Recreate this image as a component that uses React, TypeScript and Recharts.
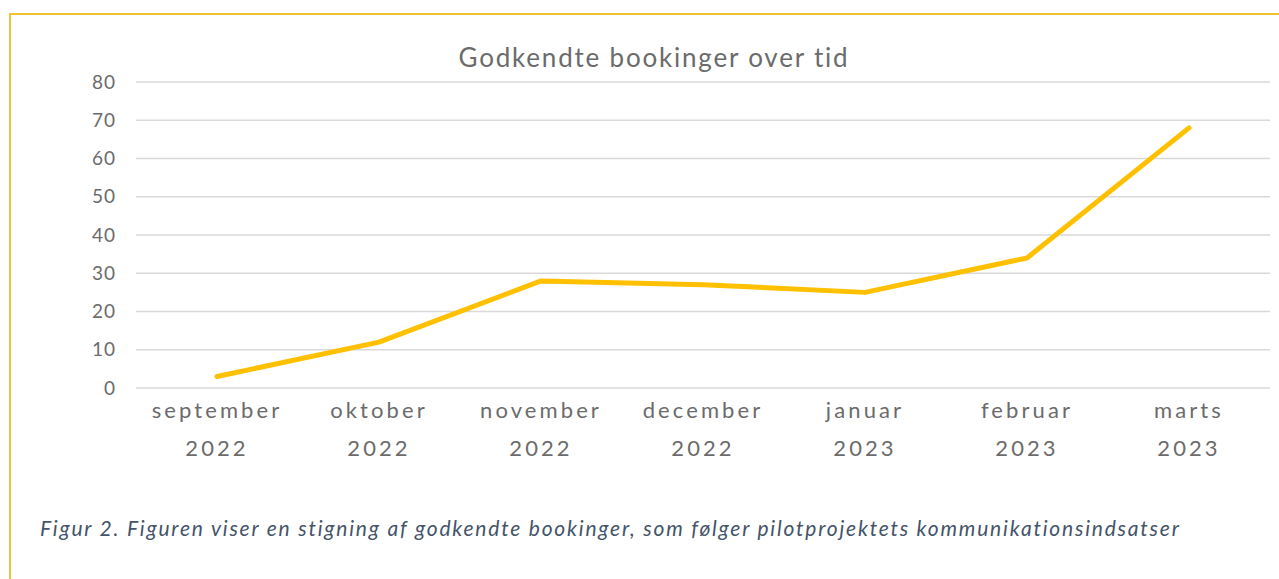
import React from "react";
import { LineChart, Line, XAxis, YAxis, CartesianGrid } from "recharts";

const months = ["september", "oktober", "november", "december", "januar", "februar", "marts"];
const years = ["2022", "2022", "2022", "2022", "2023", "2023", "2023"];
const bookings = [3, 12, 28, 27, 25, 34, 68];
const yTicks = [0, 10, 20, 30, 40, 50, 60, 70, 80];

const data = months.map((m, i) => ({ label: `${m}|${years[i]}`, bookings: bookings[i] }));

const FONT = "Lato, 'Open Sans', sans-serif";
const TEXT_GRAY = "#6b6b6b";

// two-line category label: month on top, year below
const MonthTick = ({ x, y, payload }: any) => {
  const [m, yr] = String(payload.value).split("|");
  return (
    <g transform={`translate(${x},${y})`}>
      <text textAnchor="middle" fill={TEXT_GRAY} fontSize={22} fontFamily={FONT} letterSpacing={3.1}>
        <tspan x={0} dy={22}>{m}</tspan>
        <tspan x={0} dy={38}>{yr}</tspan>
      </text>
    </g>
  );
};

const App: React.FC = () => {
  return (
    <div style={{ position: "absolute", left: 0, top: 0, width: 1279, height: 579, background: "#fff", overflow: "hidden" }}>
      <div
        style={{
          position: "absolute",
          left: 9,
          top: 13,
          width: 1290,
          height: 600,
          borderTop: "2px solid #efc232",
          borderLeft: "2px solid #efc232",
        }}
      />
      <div
        style={{
          position: "absolute",
          left: 136,
          width: 1036,
          top: 41,
          textAlign: "center",
          fontFamily: FONT,
          fontSize: 26,
          letterSpacing: 1.8,
          color: TEXT_GRAY,
        }}
      >
        Godkendte bookinger over tid
      </div>
      <div style={{ position: "absolute", left: 0, top: 0 }}>
        <LineChart width={1279} height={579} data={data} margin={{ top: 82, right: 9, bottom: 111, left: 76 }}>
          <CartesianGrid vertical={false} stroke="#d9d9d9" strokeWidth={1.5} />
          <XAxis
            dataKey="label"
            axisLine={false}
            tickLine={false}
            interval={0}
            height={80}
            padding={{ left: 81, right: 81 }}
            tick={<MonthTick />}
          />
          <YAxis
            domain={[0, 80]}
            ticks={yTicks}
            axisLine={false}
            tickLine={false}
            width={60}
            tickMargin={14}
            tick={{ fill: TEXT_GRAY, fontSize: 19, fontFamily: FONT, letterSpacing: 1 }}
          />
          <Line
            type="linear"
            dataKey="bookings"
            stroke="#ffc000"
            strokeWidth={5}
            strokeLinecap="round"
            strokeLinejoin="round"
            dot={false}
            activeDot={false}
            isAnimationActive={false}
          />
        </LineChart>
      </div>
      <div
        style={{
          position: "absolute",
          left: 40,
          top: 515,
          fontFamily: FONT,
          fontStyle: "italic",
          fontSize: 21,
          letterSpacing: 1.8,
          color: "#44546a",
          whiteSpace: "nowrap",
        }}
      >
        Figur 2. Figuren viser en stigning af godkendte bookinger, som følger pilotprojektets kommunikationsindsatser
      </div>
    </div>
  );
};

export default App;
